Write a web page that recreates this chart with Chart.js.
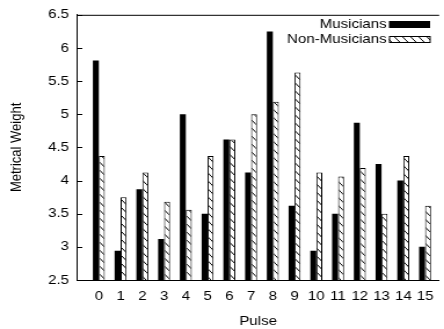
<!DOCTYPE html>
<html>
<head>
<meta charset="utf-8">
<script src="https://cdn.jsdelivr.net/npm/chart.js@4.4.0/dist/chart.umd.min.js"></script>
<style>
  html, body { margin: 0; padding: 0; background: #fff; overflow: hidden; }
  /* the original figure is stretched horizontally, so the chart is drawn narrower and widened here */
  #wrap { width: 383px; height: 329px; transform: scaleX(1.1593); transform-origin: 0 0; }
</style>
</head>
<body>
<div id="wrap"><canvas id="chart" width="383" height="329"></canvas></div>
<script>
const pulses = [0, 1, 2, 3, 4, 5, 6, 7, 8, 9, 10, 11, 12, 13, 14, 15];
const musicians = [5.81, 2.94, 3.87, 3.12, 5.0, 3.5, 4.62, 4.12, 6.25, 3.62, 2.94, 3.5, 4.87, 4.25, 4.0, 3.0];
const nonMusicians = [4.37, 3.75, 4.12, 3.68, 3.56, 4.37, 4.62, 5.0, 5.19, 5.63, 4.12, 4.06, 4.19, 3.5, 4.37, 3.62];
const yTicks = [2.5, 3, 3.5, 4, 4.5, 5, 5.5, 6, 6.5];

const FONT = 'Liberation Sans, Arial, sans-serif';

// hatch pattern for the non-musicians bars
function makeHatch() {
    const c = document.createElement('canvas');
    c.width = 7; c.height = 8;
    const g = c.getContext('2d');
    g.fillStyle = '#fff';
    g.fillRect(0, 0, 7, 8);
    g.strokeStyle = '#000';
    g.lineWidth = 1;
    g.beginPath();
    g.moveTo(-1, -1.14); g.lineTo(8, 9.14);
    g.stroke();
    return g.createPattern(c, 'repeat');
}
const hatch = makeHatch();

// frame: top line and inward y ticks
const framePlugin = {
    id: 'frame',
    afterDraw(chart) {
        const { ctx, chartArea: a, scales } = chart;
        ctx.save();
        ctx.strokeStyle = '#000';
        ctx.lineWidth = 1;
        ctx.beginPath();
        ctx.moveTo(a.left, a.top + 0.5);
        ctx.lineTo(a.right, a.top + 0.5);
        scales.y.ticks.forEach(t => {
            const y = Math.round(scales.y.getPixelForValue(t.value)) + 0.5;
            ctx.moveTo(a.left, y);
            ctx.lineTo(a.left + 4.5, y);
        });
        ctx.stroke();
        ctx.restore();
    }
};

// legend: text on the left, sample box on the right
const legendPlugin = {
    id: 'sideLegend',
    afterDraw(chart) {
        const { ctx } = chart;
        ctx.save();
        ctx.font = '13px ' + FONT;
        ctx.textAlign = 'right';
        ctx.textBaseline = 'middle';
        chart.data.datasets.forEach((ds, i) => {
            const y = 24.5 + i * 15;
            ctx.fillStyle = '#000';
            ctx.fillText(ds.label, 333.5, y);
            ctx.fillStyle = ds.backgroundColor;
            ctx.fillRect(335.5, y - 3.5, 35.5, 7);
            if (ds.borderWidth) {
                ctx.strokeStyle = '#000';
                ctx.lineWidth = 1;
                ctx.strokeRect(336, y - 3, 35, 6);
            }
        });
        ctx.restore();
    }
};

new Chart(document.getElementById('chart'), {
    type: 'bar',
    data: {
        datasets: [
            {
                label: 'Musicians',
                data: pulses.map((p, i) => ({ x: p, y: musicians[i] })),
                backgroundColor: '#000',
                borderWidth: 0
            },
            {
                label: 'Non-Musicians',
                data: pulses.map((p, i) => ({ x: p, y: nonMusicians[i] })),
                backgroundColor: hatch,
                borderColor: '#000',
                borderWidth: 1,
                borderSkipped: 'bottom'
            }
        ]
    },
    options: {
        responsive: false,
        animation: false,
        devicePixelRatio: 1,
        categoryPercentage: 0.55,
        barPercentage: 1.0,
        layout: { padding: { left: 0, top: 13, right: 3.5, bottom: 0 } },
        plugins: {
            legend: { display: false },
            tooltip: { enabled: false }
        },
        scales: {
            x: {
                type: 'linear',
                min: -1,
                max: 15.65,
                offset: false,
                grid: { display: false, drawTicks: false },
                border: { display: true, color: '#000', width: 1 },
                afterBuildTicks(s) { s.ticks = pulses.map(v => ({ value: v })); },
                ticks: {
                    autoSkip: false,
                    maxRotation: 0,
                    padding: 9,
                    color: '#000',
                    font: { family: FONT, size: 13 },
                    callback: v => String(v)
                },
                title: {
                    display: true,
                    text: 'Pulse',
                    color: '#000',
                    font: { family: FONT, size: 13 },
                    padding: { top: 6, bottom: 0 }
                },
                afterFit(s) { s.height = 49; }
            },
            y: {
                min: 2.5,
                max: 6.5,
                grid: { display: false, drawTicks: false },
                border: { display: true, color: '#000', width: 1 },
                afterBuildTicks(s) { s.ticks = yTicks.map(v => ({ value: v })); },
                ticks: {
                    padding: 7,
                    color: '#000',
                    font: { family: FONT, size: 13 },
                    callback: v => String(v)
                },
                title: {
                    display: true,
                    text: 'Metrical Weight',
                    color: '#000',
                    font: { family: FONT, size: 13 },
                    padding: { top: 7, bottom: 0 }
                },
                afterFit(s) { s.width = 66.5; }
            }
        }
    },
    plugins: [framePlugin, legendPlugin]
});
</script>
</body>
</html>
